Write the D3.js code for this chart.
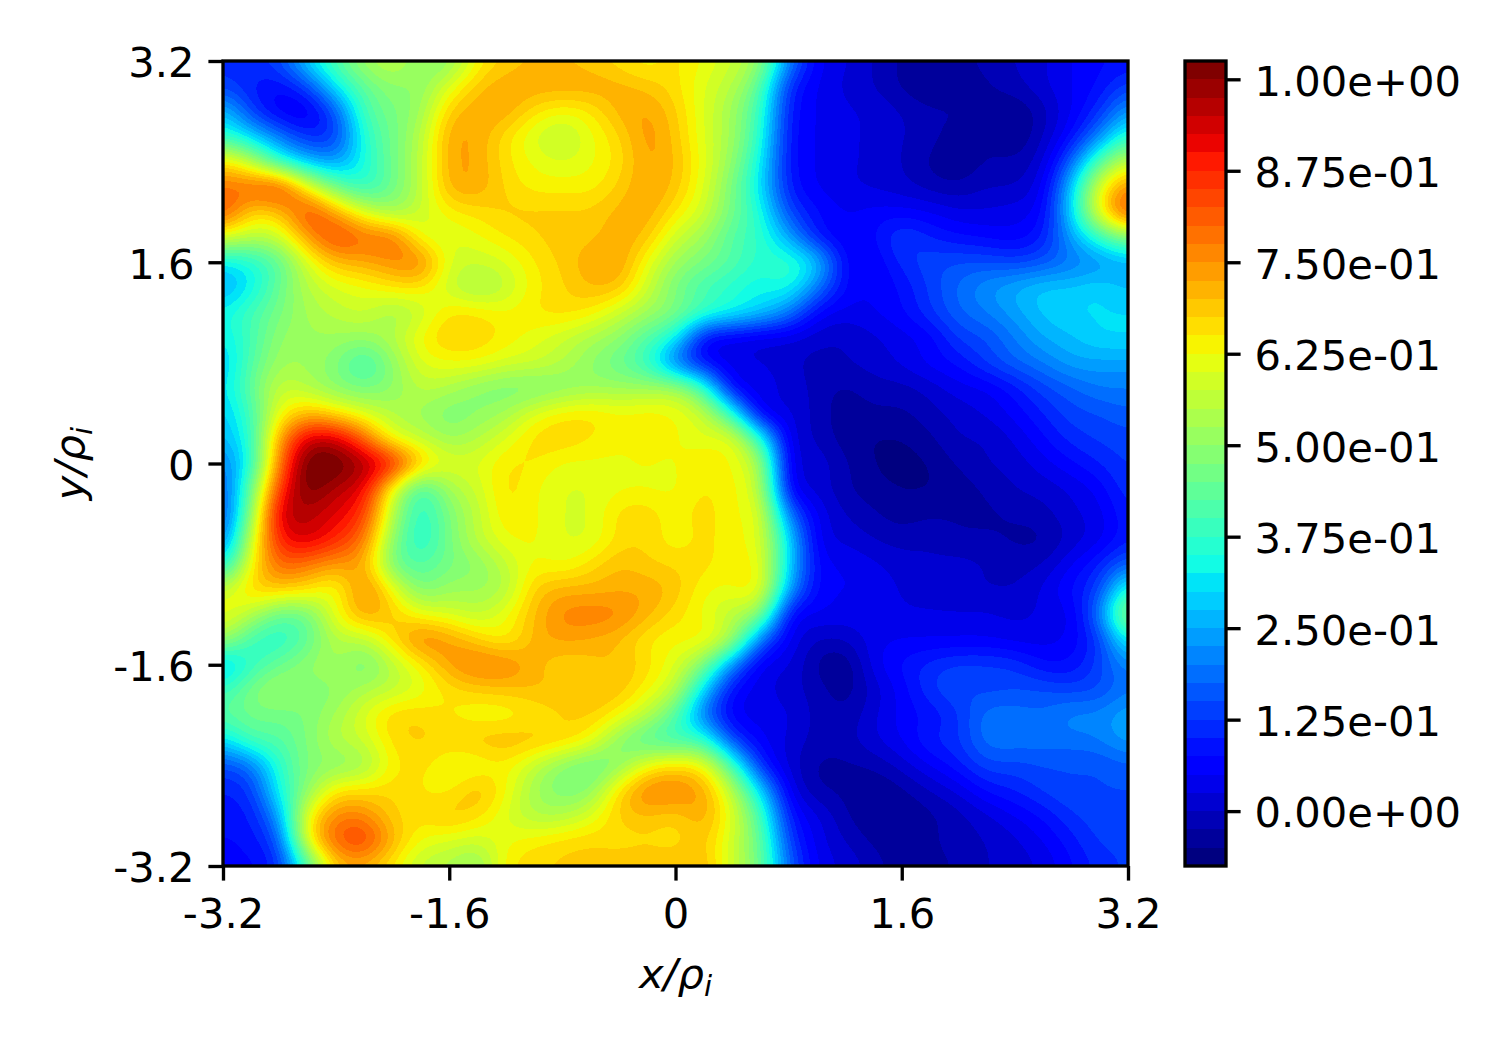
<!DOCTYPE html>
<html>
<head>
<meta charset="utf-8">
<script src="https://cdn.jsdelivr.net/npm/d3@7"></script>
<style>
    html, body { margin: 0; padding: 0; background: #fff; }
    svg { display: block; }
    text { font-family: 'DejaVu Sans', sans-serif; fill: #000; }
</style>
</head>
<body>
<svg id="chart" width="1500" height="1050"></svg>
<script>
'use strict';

const xTicks = [-3.2, -1.6, 0, 1.6, 3.2];
const yTicks = [-3.2, -1.6, 0, 1.6, 3.2];
const tickLabels = ['-3.2', '-1.6', '0', '1.6', '3.2'];
const barTicks = [0, 0.125, 0.25, 0.375, 0.5, 0.625, 0.75, 0.875, 1];
const barTickLabels = ['0.00e+00', '1.25e-01', '2.50e-01', '3.75e-01', '5.00e-01',
    '6.25e-01', '7.50e-01', '8.75e-01', '1.00e+00'];
const levelRange = [-0.075, 1.025];
const levelStep = 0.025;

// field, top row is y = 3.2, step 0.2 in x and y
const field = [
    [.12,.12,.15,.30,.42,.52,.56,.50,.50,.63,.68,.70,.70,.68,.66,.63,.66,.62,.58,.50,.22,.06,.03,.00,-.03,-.04,-.04,-.01,.00,.02,.05,.07,.08],
    [.14,.10,.08,.15,.32,.44,.50,.50,.60,.69,.72,.72,.72,.72,.71,.69,.66,.60,.55,.42,.12,.05,.02,.00,-.03,-.05,-.05,-.03,-.01,.02,.05,.08,.14],
    [.28,.14,.06,.05,.17,.40,.47,.52,.68,.72,.72,.66,.63,.65,.71,.73,.68,.60,.52,.38,.10,.05,.03,.02,.00,-.02,-.02,-.03,-.05,-.01,.05,.12,.24],
    [.38,.30,.20,.12,.14,.36,.46,.55,.72,.72,.66,.60,.56,.62,.67,.74,.69,.60,.52,.36,.09,.05,.03,.02,.00,-.01,-.05,-.03,-.05,.00,.08,.22,.38],
    [.66,.55,.38,.28,.24,.35,.46,.56,.72,.72,.66,.62,.60,.62,.66,.73,.70,.61,.50,.33,.09,.05,.03,.02,.00,-.03,-.05,-.02,-.02,.02,.18,.42,.58],
    [.78,.79,.82,.62,.46,.38,.46,.56,.71,.72,.67,.64,.64,.64,.68,.73,.69,.60,.47,.31,.10,.05,.03,.02,.01,-.01,-.02,.00,.00,.05,.28,.60,.76],
    [.82,.68,.70,.82,.72,.60,.53,.58,.64,.66,.68,.68,.68,.68,.71,.72,.65,.58,.46,.35,.15,.08,.05,.06,.06,.05,.03,.03,.04,.07,.30,.62,.82],
    [.60,.55,.58,.74,.83,.78,.78,.62,.60,.62,.65,.67,.69,.69,.72,.69,.58,.52,.42,.37,.25,.10,.05,.07,.13,.10,.08,.07,.06,.10,.24,.38,.50],
    [.32,.36,.44,.60,.70,.72,.75,.76,.60,.58,.60,.65,.68,.72,.73,.62,.52,.47,.42,.36,.37,.28,.07,.05,.11,.14,.15,.15,.14,.16,.20,.23,.26],
    [.26,.33,.45,.55,.60,.62,.65,.65,.58,.53,.57,.64,.67,.70,.69,.58,.47,.40,.36,.33,.34,.20,.07,.05,.08,.13,.18,.22,.25,.28,.28,.30,.27],
    [.33,.40,.47,.53,.56,.58,.53,.58,.65,.65,.63,.65,.66,.64,.58,.52,.47,.38,.33,.28,.20,.07,.04,.05,.07,.12,.17,.20,.24,.28,.30,.30,.30],
    [.32,.40,.50,.52,.52,.51,.55,.63,.68,.67,.64,.61,.58,.54,.50,.42,.33,.08,.05,.03,.03,.01,.00,.02,.04,.06,.13,.15,.20,.25,.27,.30,.30],
    [.28,.42,.52,.52,.48,.40,.50,.60,.62,.62,.59,.58,.55,.50,.45,.38,.20,.09,.04,.03,.01,-.01,.00,.01,.03,.06,.08,.13,.17,.20,.24,.24,.24],
    [.30,.44,.57,.55,.50,.47,.50,.56,.54,.50,.48,.48,.50,.52,.52,.52,.52,.38,.08,.04,.02,-.01,-.03,-.01,-.01,.01,.04,.05,.09,.14,.17,.20,.20],
    [.28,.40,.62,.70,.66,.60,.55,.52,.48,.50,.53,.60,.64,.65,.63,.64,.62,.56,.36,.06,.03,-.01,-.04,-.03,-.03,-.01,.01,.03,.06,.10,.14,.15,.17],
    [.26,.38,.73,.93,.93,.80,.62,.57,.52,.55,.60,.66,.67,.65,.63,.63,.63,.60,.60,.36,.04,.00,-.04,-.05,-.05,-.03,.00,.00,.03,.07,.11,.13,.14],
    [.20,.37,.78,1.03,1.03,.97,.88,.68,.60,.60,.65,.65,.62,.62,.62,.63,.62,.65,.62,.52,.05,.02,-.02,-.05,-.06,-.05,-.02,.00,.01,.04,.07,.10,.13],
    [.16,.45,.85,1.02,.96,.91,.62,.41,.53,.58,.66,.63,.60,.60,.62,.62,.62,.65,.63,.55,.07,.02,-.02,-.04,-.05,-.05,-.04,-.02,.00,.01,.03,.06,.12],
    [.14,.50,.93,.96,.92,.85,.55,.37,.48,.56,.65,.63,.60,.60,.66,.67,.63,.67,.62,.60,.20,.05,.00,-.02,-.04,-.03,-.03,-.03,-.02,-.01,.02,.04,.10],
    [.18,.58,.88,.93,.87,.78,.50,.36,.47,.56,.62,.63,.60,.60,.66,.67,.63,.66,.63,.60,.30,.05,.02,.00,-.01,.00,-.02,-.02,-.03,-.03,.01,.04,.10],
    [.32,.63,.80,.78,.74,.72,.47,.42,.47,.50,.57,.63,.62,.66,.70,.68,.67,.66,.63,.62,.30,.07,.05,.03,.01,.00,.01,.00,-.01,.00,.05,.10,.18],
    [.56,.67,.68,.66,.62,.76,.62,.48,.52,.52,.55,.68,.71,.71,.72,.72,.69,.63,.62,.62,.25,.07,.05,.05,.02,.01,.00,.00,.00,.03,.08,.14,.38],
    [.62,.55,.45,.47,.62,.72,.68,.62,.60,.57,.62,.70,.76,.77,.76,.71,.66,.62,.55,.48,.08,.05,.04,.04,.03,.03,.03,.03,.02,.03,.05,.20,.52],
    [.52,.40,.37,.44,.55,.56,.66,.76,.73,.68,.64,.71,.73,.72,.70,.65,.63,.63,.52,.20,.05,.00,.00,.04,.05,.05,.05,.05,.04,.04,.06,.13,.35],
    [.28,.38,.45,.50,.53,.47,.56,.64,.73,.77,.76,.71,.68,.69,.70,.66,.60,.47,.22,.05,.03,-.03,-.05,.04,.08,.11,.13,.13,.12,.08,.08,.14,.22],
    [.38,.47,.52,.48,.50,.54,.57,.61,.66,.68,.69,.70,.70,.70,.69,.63,.55,.30,.08,.04,.01,-.01,-.04,.01,.06,.12,.15,.14,.15,.15,.14,.15,.20],
    [.42,.46,.46,.48,.53,.60,.67,.67,.65,.63,.63,.65,.67,.68,.63,.55,.42,.20,.06,.04,.03,-.01,-.02,.02,.06,.08,.12,.19,.19,.18,.21,.21,.25],
    [.30,.40,.42,.48,.55,.58,.66,.68,.67,.69,.70,.69,.67,.62,.50,.43,.40,.38,.15,.06,.02,-.01,-.01,.02,.05,.10,.12,.19,.19,.19,.19,.20,.24],
    [.15,.20,.37,.48,.50,.53,.64,.66,.62,.62,.64,.57,.50,.46,.50,.62,.66,.62,.40,.12,.02,-.03,-.03,-.02,.01,.05,.09,.14,.14,.15,.15,.15,.17],
    [.10,.13,.34,.50,.65,.66,.67,.65,.64,.70,.63,.53,.48,.50,.66,.76,.76,.72,.55,.30,.05,-.02,-.03,-.05,-.03,.00,.03,.08,.10,.13,.15,.15,.15],
    [.09,.10,.25,.62,.76,.76,.68,.66,.69,.66,.60,.55,.55,.60,.68,.70,.68,.72,.60,.40,.10,.03,-.02,-.05,-.05,-.03,-.01,.02,.05,.08,.12,.14,.14],
    [.07,.09,.17,.62,.80,.84,.71,.62,.60,.58,.62,.64,.66,.67,.66,.67,.66,.69,.58,.44,.14,.04,.00,-.03,-.05,-.03,-.01,.00,.02,.05,.09,.13,.13],
    [.06,.07,.12,.40,.68,.70,.64,.56,.54,.50,.64,.67,.68,.69,.70,.70,.70,.70,.58,.45,.18,.05,.02,-.01,-.04,-.04,-.02,.00,.01,.03,.07,.11,.13]
];

(function () {
    const plot = { left: 223, right: 1128, top: 61, bottom: 866 };
    const bar = { left: 1185, right: 1226 };
    const fontSize = 41.67;
    const lineWidth = 3.33;
    const tickSize = 14.6;

    const svg = d3.select('#chart');

    const x = d3.scaleLinear().domain([-3.2, 3.2]).range([plot.left, plot.right]);
    const y = d3.scaleLinear().domain([-3.2, 3.2]).range([plot.bottom, plot.top]);
    const barY = d3.scaleLinear().domain(levelRange).range([plot.bottom, plot.top]);

    // matplotlib jet as three piecewise channels
    const red = d3.scaleLinear().domain([0, 0.35, 0.66, 0.89, 1]).range([0, 0, 255, 255, 128]);
    const green = d3.scaleLinear().domain([0, 0.125, 0.375, 0.64, 0.91, 1]).range([0, 0, 255, 255, 0, 0]);
    const blue = d3.scaleLinear().domain([0, 0.11, 0.34, 0.65, 1]).range([128, 255, 255, 0, 0]);
    const jet = t => d3.rgb(red(t), green(t), blue(t)).formatHex();

    const levelCount = Math.round((levelRange[1] - levelRange[0]) / levelStep);
    const levels = d3.range(levelCount).map(i => levelRange[0] + i * levelStep);
    const bandColor = i => jet(i / (levelCount - 1));

    // the read grid is coarse, refine with catmull-rom so the bands run smooth
    const refine = 8;
    const rows = field.length;
    const cols = field[0].length;
    const fineW = (cols - 1) * refine + 1;
    const fineH = (rows - 1) * refine + 1;
    const weights = t => [
        0.5 * (-t + 2 * t * t - t * t * t),
        0.5 * (2 - 5 * t * t + 3 * t * t * t),
        0.5 * (t + 4 * t * t - 3 * t * t * t),
        0.5 * (-t * t + t * t * t)
    ];
    const clamp = (v, hi) => Math.max(0, Math.min(hi, v));
    const fine = new Float64Array(fineW * fineH);
    for (let j = 0; j < fineH; j++) {
        const j0 = Math.min(Math.floor(j / refine), rows - 2);
        const wy = weights(j / refine - j0);
        for (let i = 0; i < fineW; i++) {
            const i0 = Math.min(Math.floor(i / refine), cols - 2);
            const wx = weights(i / refine - i0);
            let sum = 0;
            for (let b = 0; b < 4; b++) {
                const row = field[clamp(j0 + b - 1, rows - 1)];
                for (let a = 0; a < 4; a++) {
                    sum += wy[b] * wx[a] * row[clamp(i0 + a - 1, cols - 1)];
                }
            }
            fine[j * fineW + i] = sum;
        }
    }
    // takes the reading noise out of the grid
    d3.blur2({ data: fine, width: fineW, height: fineH }, 2.5);

    const contours = d3.contours()
        .size([fineW, fineH])
        .smooth(true)
        .thresholds(levels)(fine);

    // d3.contours puts grid point i at i + 0.5
    const gridX = d3.scaleLinear().domain([0.5, fineW - 0.5]).range(x.domain());
    const gridY = d3.scaleLinear().domain([0.5, fineH - 0.5]).range([3.2, -3.2]);
    const path = d3.geoPath(d3.geoTransform({
        point: function (px, py) {
            this.stream.point(x(gridX(px)), y(gridY(py)));
        }
    }));

    svg.append('clipPath')
        .attr('id', 'plot-area')
        .append('rect')
        .attr('x', plot.left)
        .attr('y', plot.top)
        .attr('width', plot.right - plot.left)
        .attr('height', plot.bottom - plot.top);

    svg.append('rect')
        .attr('x', plot.left)
        .attr('y', plot.top)
        .attr('width', plot.right - plot.left)
        .attr('height', plot.bottom - plot.top)
        .attr('fill', bandColor(0));

    svg.append('g')
        .attr('clip-path', 'url(#plot-area)')
        .selectAll('path')
        .data(contours)
        .enter().append('path')
        .attr('d', path)
        .attr('fill', (d, i) => bandColor(i))
        .attr('shape-rendering', 'crispEdges');

    // colorbar bands
    svg.append('g')
        .selectAll('rect')
        .data(levels)
        .enter().append('rect')
        .attr('x', bar.left)
        .attr('width', bar.right - bar.left)
        .attr('y', d => barY(d + levelStep))
        .attr('height', d => barY(d) - barY(d + levelStep))
        .attr('fill', (d, i) => bandColor(i))
        .attr('shape-rendering', 'crispEdges');

    const styleAxis = g => {
        g.attr('font-size', fontSize).attr('font-family', null);
        g.select('.domain').remove();
        g.selectAll('line').attr('stroke', '#000').attr('stroke-width', lineWidth);
    };
    const nudgeLabels = g => g.selectAll('text').attr('dy', '0.38em');

    svg.append('g')
        .attr('transform', 'translate(0,' + plot.bottom + ')')
        .call(d3.axisBottom(x)
            .tickValues(xTicks)
            .tickFormat((d, i) => tickLabels[i])
            .tickSize(tickSize)
            .tickPadding(18))
        .call(styleAxis);

    svg.append('g')
        .attr('transform', 'translate(' + plot.left + ',0)')
        .call(d3.axisLeft(y)
            .tickValues(yTicks)
            .tickFormat((d, i) => tickLabels[i])
            .tickSize(tickSize)
            .tickPadding(14))
        .call(styleAxis)
        .call(nudgeLabels);

    svg.append('g')
        .attr('transform', 'translate(' + bar.right + ',0)')
        .call(d3.axisRight(barY)
            .tickValues(barTicks)
            .tickFormat((d, i) => barTickLabels[i])
            .tickSize(tickSize)
            .tickPadding(14))
        .call(styleAxis)
        .call(nudgeLabels);

    // spines
    [[plot.left, plot.right], [bar.left, bar.right]].forEach(d => {
        svg.append('rect')
            .attr('x', d[0])
            .attr('y', plot.top)
            .attr('width', d[1] - d[0])
            .attr('height', plot.bottom - plot.top)
            .attr('fill', 'none')
            .attr('stroke', '#000')
            .attr('stroke-width', lineWidth);
    });

    // axis titles, mathtext style
    const mathLabel = (g, name) => {
        g.attr('font-size', fontSize).attr('text-anchor', 'middle');
        const label = g.append('text');
        label.append('tspan').attr('font-style', 'italic').text(name + '/\u03c1');
        label.append('tspan')
            .attr('font-style', 'italic')
            .attr('font-size', fontSize * 0.7)
            .attr('dy', fontSize * 0.2)
            .text('i');
    };

    svg.append('g')
        .attr('transform', 'translate(' + x(0) + ',988)')
        .call(mathLabel, 'x');

    svg.append('g')
        .attr('transform', 'translate(84,' + y(0) + ') rotate(-90)')
        .call(mathLabel, 'y');
}());
</script>
</body>
</html>
